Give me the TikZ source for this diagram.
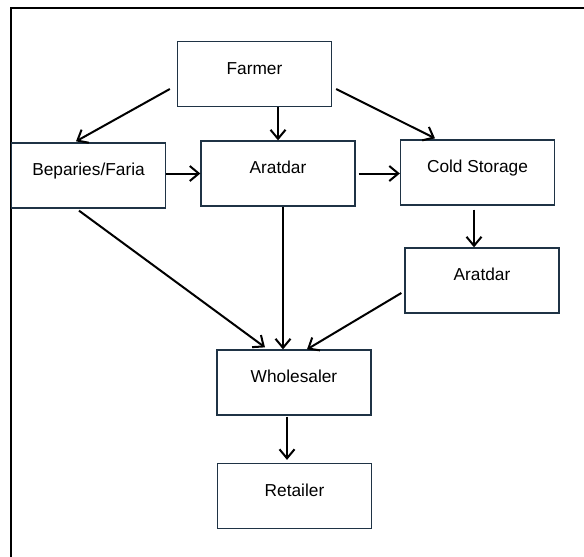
\documentclass[tikz,border=0pt]{standalone}
\usepackage{fontspec}
\setmainfont{Liberation Sans}
\usetikzlibrary{arrows.meta}
\definecolor{boxline}{HTML}{1F3345}
\tikzset{
    box/.style={draw=boxline, line width=1.3pt, rectangle, minimum width=154pt,
        inner xsep=0pt, inner ysep=8pt, text height=24.5pt, text depth=24.5pt,
        font=\fontsize{17.3}{20}\selectfont},
    flow/.style={line width=2pt, -{Straight Barb[length=9pt,width=15pt]}},
    frame/.style={line width=2pt}
}
\begin{document}
\begin{tikzpicture}[x=1pt,y=-1pt]
\useasboundingbox (0,0) rectangle (584,557);
\draw[frame] (10.5,557) -- (10.5,8) -- (584,8);

\node[box] at (254.5,74) (farmer) {Farmer};

\node[box] at (88.5,175.5) (bep) {Beparies/Faria};
\node[box] at (278,173.5) (arat1) {Aratdar};
\node[box] at (477.5,172.5) (cold) {Cold Storage};

\node[box] at (482,280.5) (arat2) {Aratdar};

\node[box] at (294,382.5) (whole) {Wholesaler};
\node[box] at (294.5,496) (retail) {Retailer};

\draw[flow] ([xshift=-7pt,yshift=-15pt]farmer.west) -- ([xshift=-12.5pt,yshift=1pt]bep.north);
\draw[flow] (arat1.north |- farmer.south) -- (arat1.north);
\draw[flow] ([xshift=4pt,yshift=-15pt]farmer.east) -- ([xshift=-42.5pt,yshift=1pt]cold.north);

\draw[flow] (bep.east |- arat1.west) -- (arat1.west);
\draw[flow, shorten <=3pt] (arat1.east) -- (cold.west |- arat1.east);

\draw[flow] ([xshift=-9.5pt,yshift=-2pt]bep.south) -- ([xshift=-29pt,yshift=2pt]whole.north);
\draw[flow] ([xshift=5pt]arat1.south) -- ([xshift=5pt]arat1.south |- whole.north);
\draw[flow, shorten <=4pt] ([xshift=-3.5pt]cold.south) -- ([xshift=-3.5pt]cold.south |- arat2.north);
\draw[flow] ([xshift=-3pt,yshift=-12.5pt]arat2.west) -- ([xshift=13pt]whole.north);

\draw[flow, shorten <=1pt, shorten >=3pt] ([xshift=-7pt]whole.south) -- ([xshift=-7pt]whole.south |- retail.north);
\end{tikzpicture}
\end{document}
